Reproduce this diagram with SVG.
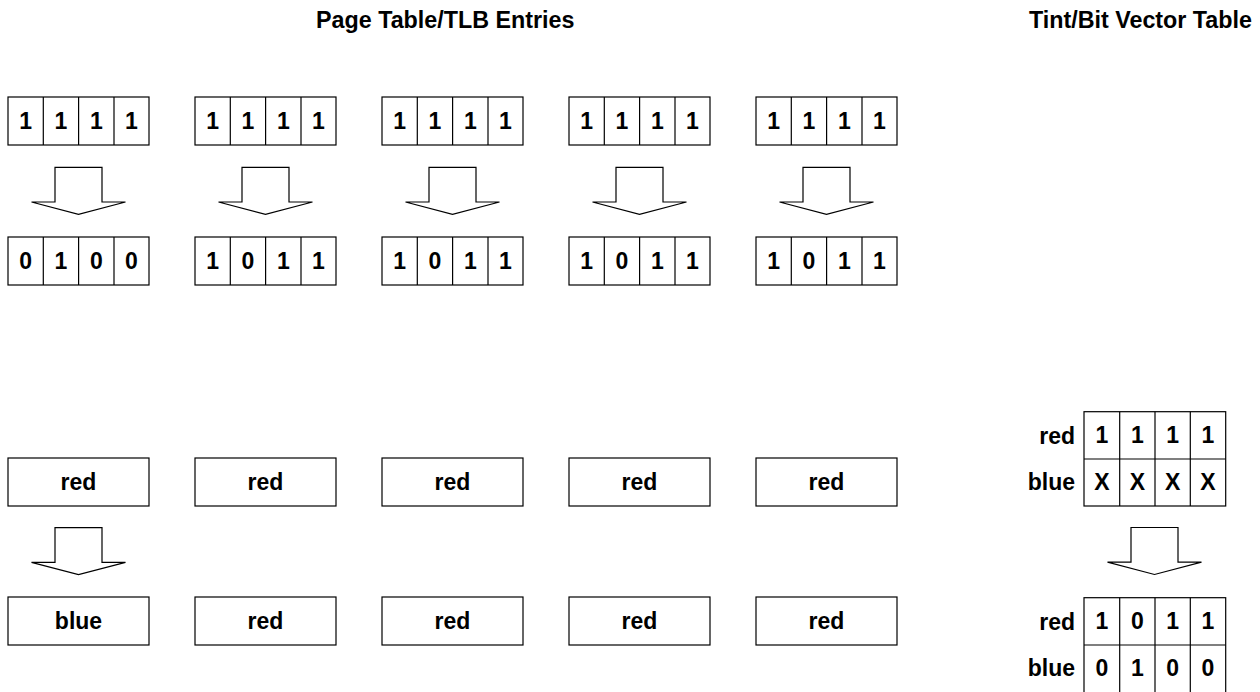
<svg xmlns="http://www.w3.org/2000/svg" xmlns:xlink="http://www.w3.org/1999/xlink" width="1260" height="692" viewBox="0 0 1260 692">
<style>
  .box { fill: #ffffff; stroke: #000000; stroke-width: 1.2; }
  .div { stroke: #000000; stroke-width: 1.2; }
  .arrow { fill: #ffffff; stroke: #000000; stroke-width: 1.2; stroke-linejoin: miter; }
  text { font-family: "Liberation Sans", Arial, sans-serif; font-weight: bold; fill: #000000; }
  .title { font-size: 23.3px; }
  .cell { font-size: 23px; text-anchor: middle; }
  .lbl { font-size: 23px; text-anchor: end; }
</style>
<defs>
  <polygon id="blockArrow" class="arrow" points="-23.5,0 23.5,0 23.5,34.7 47,34.7 0,47 -47,34.7 -23.5,34.7"/>
  <g id="cells4">
    <rect class="box" x="0" y="0" width="141" height="48"/>
    <line class="div" x1="35.3" y1="0" x2="35.3" y2="48"/>
    <line class="div" x1="70.6" y1="0" x2="70.6" y2="48"/>
    <line class="div" x1="106" y1="0" x2="106" y2="48"/>
  </g>
</defs>
<rect x="0" y="0" width="1260" height="692" fill="#ffffff"/>

<g id="titles">
  <text class="title" x="316" y="28">Page Table/TLB Entries</text>
  <text class="title" x="1252" y="28" text-anchor="end">Tint/Bit Vector Table</text>
</g>

<!-- Top section: page table entries before -->
<g id="pte-before-1" transform="translate(8,97)">
  <use xlink:href="#cells4"/>
  <text class="cell" x="17.6" y="32">1</text><text class="cell" x="53" y="32">1</text><text class="cell" x="88.3" y="32">1</text><text class="cell" x="123.5" y="32">1</text>
</g>
<g id="pte-before-2" transform="translate(195,97)">
  <use xlink:href="#cells4"/>
  <text class="cell" x="17.6" y="32">1</text><text class="cell" x="53" y="32">1</text><text class="cell" x="88.3" y="32">1</text><text class="cell" x="123.5" y="32">1</text>
</g>
<g id="pte-before-3" transform="translate(382,97)">
  <use xlink:href="#cells4"/>
  <text class="cell" x="17.6" y="32">1</text><text class="cell" x="53" y="32">1</text><text class="cell" x="88.3" y="32">1</text><text class="cell" x="123.5" y="32">1</text>
</g>
<g id="pte-before-4" transform="translate(569,97)">
  <use xlink:href="#cells4"/>
  <text class="cell" x="17.6" y="32">1</text><text class="cell" x="53" y="32">1</text><text class="cell" x="88.3" y="32">1</text><text class="cell" x="123.5" y="32">1</text>
</g>
<g id="pte-before-5" transform="translate(756,97)">
  <use xlink:href="#cells4"/>
  <text class="cell" x="17.6" y="32">1</text><text class="cell" x="53" y="32">1</text><text class="cell" x="88.3" y="32">1</text><text class="cell" x="123.5" y="32">1</text>
</g>

<!-- Top section: page table entries after -->
<g id="pte-after-1" transform="translate(8,237)">
  <use xlink:href="#cells4"/>
  <text class="cell" x="17.6" y="32">0</text><text class="cell" x="53" y="32">1</text><text class="cell" x="88.3" y="32">0</text><text class="cell" x="123.5" y="32">0</text>
</g>
<g id="pte-after-2" transform="translate(195,237)">
  <use xlink:href="#cells4"/>
  <text class="cell" x="17.6" y="32">1</text><text class="cell" x="53" y="32">0</text><text class="cell" x="88.3" y="32">1</text><text class="cell" x="123.5" y="32">1</text>
</g>
<g id="pte-after-3" transform="translate(382,237)">
  <use xlink:href="#cells4"/>
  <text class="cell" x="17.6" y="32">1</text><text class="cell" x="53" y="32">0</text><text class="cell" x="88.3" y="32">1</text><text class="cell" x="123.5" y="32">1</text>
</g>
<g id="pte-after-4" transform="translate(569,237)">
  <use xlink:href="#cells4"/>
  <text class="cell" x="17.6" y="32">1</text><text class="cell" x="53" y="32">0</text><text class="cell" x="88.3" y="32">1</text><text class="cell" x="123.5" y="32">1</text>
</g>
<g id="pte-after-5" transform="translate(756,237)">
  <use xlink:href="#cells4"/>
  <text class="cell" x="17.6" y="32">1</text><text class="cell" x="53" y="32">0</text><text class="cell" x="88.3" y="32">1</text><text class="cell" x="123.5" y="32">1</text>
</g>

<!-- Bottom section: tints before -->
<g id="tint-before-1"><rect class="box" x="8" y="458" width="141" height="48"/><text class="cell" x="78.5" y="490">red</text></g>
<g id="tint-before-2"><rect class="box" x="195" y="458" width="141" height="48"/><text class="cell" x="265.5" y="490">red</text></g>
<g id="tint-before-3"><rect class="box" x="382" y="458" width="141" height="48"/><text class="cell" x="452.5" y="490">red</text></g>
<g id="tint-before-4"><rect class="box" x="569" y="458" width="141" height="48"/><text class="cell" x="639.5" y="490">red</text></g>
<g id="tint-before-5"><rect class="box" x="756" y="458" width="141" height="48"/><text class="cell" x="826.5" y="490">red</text></g>

<!-- Bottom section: tints after -->
<g id="tint-after-1"><rect class="box" x="8" y="597" width="141" height="48"/><text class="cell" x="78.5" y="629">blue</text></g>
<g id="tint-after-2"><rect class="box" x="195" y="597" width="141" height="48"/><text class="cell" x="265.5" y="629">red</text></g>
<g id="tint-after-3"><rect class="box" x="382" y="597" width="141" height="48"/><text class="cell" x="452.5" y="629">red</text></g>
<g id="tint-after-4"><rect class="box" x="569" y="597" width="141" height="48"/><text class="cell" x="639.5" y="629">red</text></g>
<g id="tint-after-5"><rect class="box" x="756" y="597" width="141" height="48"/><text class="cell" x="826.5" y="629">red</text></g>

<!-- Tint/bit vector table before -->
<g id="tbv-before">
  <rect class="box" x="1084" y="411.7" width="141.7" height="94.3"/>
  <line class="div" x1="1084" y1="459" x2="1225.7" y2="459"/>
  <line class="div" x1="1119.7" y1="411.7" x2="1119.7" y2="506"/>
  <line class="div" x1="1155" y1="411.7" x2="1155" y2="506"/>
  <line class="div" x1="1190.3" y1="411.7" x2="1190.3" y2="506"/>
  <text class="lbl" x="1075" y="444">red</text>
  <text class="lbl" x="1075" y="490">blue</text>
  <text class="cell" x="1102" y="443">1</text><text class="cell" x="1137.3" y="443">1</text><text class="cell" x="1172.6" y="443">1</text><text class="cell" x="1208" y="443">1</text>
  <text class="cell" x="1102" y="490">X</text><text class="cell" x="1137.3" y="490">X</text><text class="cell" x="1172.6" y="490">X</text><text class="cell" x="1208" y="490">X</text>
</g>

<!-- Tint/bit vector table after -->
<g id="tbv-after">
  <rect class="box" x="1084" y="597.7" width="141.7" height="96"/>
  <line class="div" x1="1084" y1="645" x2="1225.7" y2="645"/>
  <line class="div" x1="1119.7" y1="597.7" x2="1119.7" y2="694"/>
  <line class="div" x1="1155" y1="597.7" x2="1155" y2="694"/>
  <line class="div" x1="1190.3" y1="597.7" x2="1190.3" y2="694"/>
  <text class="lbl" x="1075" y="630">red</text>
  <text class="lbl" x="1075" y="676">blue</text>
  <text class="cell" x="1102" y="629">1</text><text class="cell" x="1137.3" y="629">0</text><text class="cell" x="1172.6" y="629">1</text><text class="cell" x="1208" y="629">1</text>
  <text class="cell" x="1102" y="676">0</text><text class="cell" x="1137.3" y="676">1</text><text class="cell" x="1172.6" y="676">0</text><text class="cell" x="1208" y="676">0</text>
</g>

<!-- Connectors: block arrows -->
<g id="connectors">
  <use xlink:href="#blockArrow" transform="translate(78.5,167.3)"/>
  <use xlink:href="#blockArrow" transform="translate(265.5,167.3)"/>
  <use xlink:href="#blockArrow" transform="translate(452.5,167.3)"/>
  <use xlink:href="#blockArrow" transform="translate(639.5,167.3)"/>
  <use xlink:href="#blockArrow" transform="translate(826.5,167.3)"/>
  <use xlink:href="#blockArrow" transform="translate(78.5,527.7)"/>
  <use xlink:href="#blockArrow" transform="translate(1154.5,527.5)"/>
</g>
</svg>
